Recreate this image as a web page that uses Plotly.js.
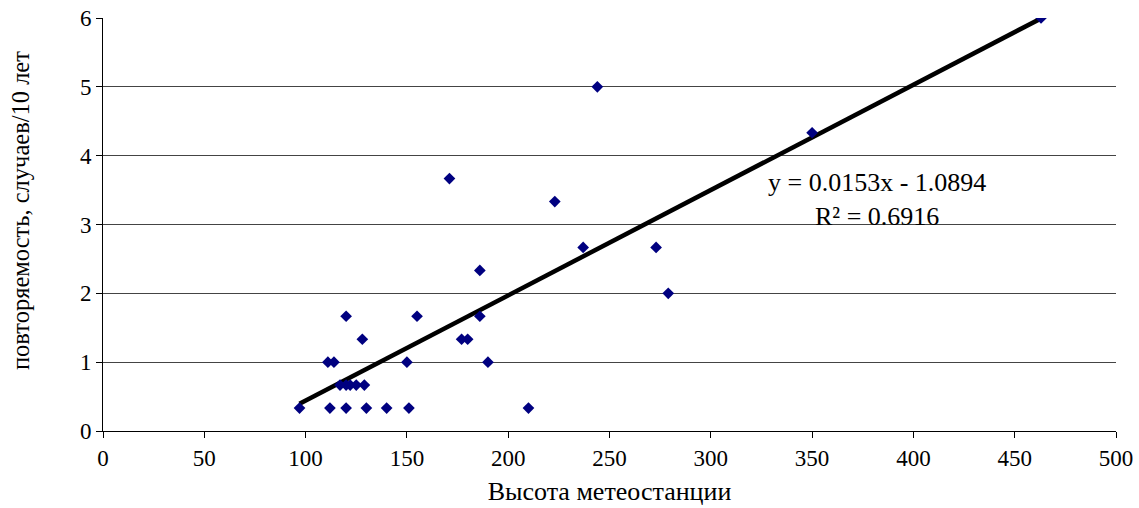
<!DOCTYPE html>
<html>
<head>
<meta charset="utf-8">
<script src="https://cdn.plot.ly/plotly-3.0.1.min.js"></script>
<style>html,body{margin:0;padding:0;background:#fff;}#chart{width:1139px;height:508px;}</style>
</head>
<body>
<div id="chart"></div>
<script>
// Station height (m) and frequency (cases / 10 years)
const stationHeight = [97, 112, 120, 130, 140, 151, 210,
                       117, 120, 122, 125, 129,
                       111, 114, 150, 190,
                       128, 177, 180,
                       120, 155, 186,
                       279, 186, 237, 273, 223, 171, 350, 244, 463];
const frequency = [0.333, 0.333, 0.333, 0.333, 0.333, 0.333, 0.333,
                   0.667, 0.667, 0.667, 0.667, 0.667,
                   1, 1, 1, 1,
                   1.333, 1.333, 1.333,
                   1.667, 1.667, 1.667,
                   2, 2.333, 2.667, 2.667, 3.333, 3.667, 4.333, 5, 6];
const trendSlope = 0.0153;
const trendIntercept = -1.0894;
const trendLabel = "y = 0.0153x - 1.0894<br>R² = 0.6916";
const xTitle = "Высота метеостанции";
const yTitle = "повторяемость, случаев/10 лет";
const xTicks = [0, 50, 100, 150, 200, 250, 300, 350, 400, 450, 500];
const yTicks = [0, 1, 2, 3, 4, 5, 6];

const xMin = Math.min(...stationHeight), xMax = Math.max(...stationHeight);
const trendX = [xMin, xMax];
const trendY = trendX.map(x => trendSlope * x + trendIntercept);

const font = "Liberation Serif, Times New Roman, serif";

const data = [
  {x: trendX, y: trendY, mode: "lines", type: "scatter",
   line: {color: "#000", width: 4.5}, hoverinfo: "skip", showlegend: false},
  {x: stationHeight, y: frequency, mode: "markers", type: "scatter",
   marker: {symbol: "diamond", color: "#000080", size: 9}, showlegend: false}
];

const layout = {
  width: 1139, height: 508,
  margin: {l: 103, r: 23, t: 18, b: 77},
  paper_bgcolor: "#fff", plot_bgcolor: "#fff",
  font: {family: font, size: 23, color: "#000"},
  xaxis: {range: [0, 500], tickvals: xTicks, ticktext: xTicks.map(String),
    showgrid: false, zeroline: false, showline: true, linecolor: "#000", linewidth: 1,
    ticks: "outside", ticklen: 6, tickcolor: "#000",
    title: {text: xTitle, font: {family: font, size: 26}, standoff: 12}},
  yaxis: {range: [0, 6], tickvals: yTicks, ticktext: yTicks.map(String),
    showgrid: true, gridcolor: "#444", gridwidth: 1, zeroline: false,
    showline: true, linecolor: "#000", linewidth: 1,
    ticks: "outside", ticklen: 6, tickcolor: "#000"},
  annotations: [
    {x: 382, y: 3.36, xref: "x", yref: "y", text: trendLabel, showarrow: false,
     align: "center", font: {family: font, size: 26, color: "#000"}},
    {x: -83 / 1013, y: 220 / 413, xref: "paper", yref: "paper", text: yTitle,
     textangle: -90, showarrow: false, xanchor: "center", yanchor: "middle",
     font: {family: font, size: 24.5, color: "#000"}}
  ]
};

Plotly.newPlot("chart", data, layout, {staticPlot: true});
</script>
</body>
</html>
